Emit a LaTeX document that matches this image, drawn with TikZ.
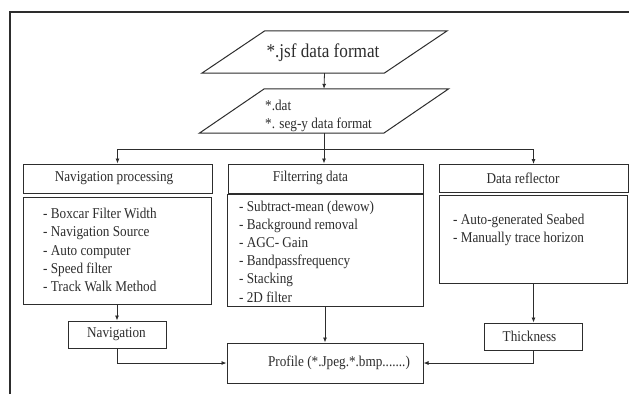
\documentclass[tikz,border=0pt]{standalone}
\usepackage{fontspec}
\setmainfont{Liberation Serif}[FakeStretch=0.88]
\usetikzlibrary{arrows.meta}
\definecolor{ink}{RGB}{45,45,45}
\begin{document}
\begin{tikzpicture}[x=1pt,y=-1pt,
  box/.style={draw=ink,line width=1pt,inner sep=0pt},
  txt/.style={font=\fontsize{15}{18.2}\selectfont,text=ink,inner sep=0pt,align=left},
  bigtxt/.style={font=\fontsize{19.5}{22}\selectfont,text=ink,inner sep=0pt},
  arr/.style={draw=ink,line width=0.8pt,-{Latex[length=5pt,width=4pt]}},
  line/.style={draw=ink,line width=0.8pt}]
\useasboundingbox (0,0) rectangle (629,394);
\fill[white] (0,0) rectangle (629,394);
% outer frame (partially cropped)
\draw[ink,line width=1.2pt] (10,394) -- (10,12) -- (629,12);

% parallelograms
\node[inner sep=0pt,minimum width=182pt,minimum height=42pt] (p1) at (324.5,52) {};
\draw[ink,line width=1pt] ([xshift=31.5pt]p1.north west) -- ([xshift=31.5pt]p1.north east)
  -- ([xshift=-31.5pt]p1.south east) -- ([xshift=-31.5pt]p1.south west) -- cycle;
\node[bigtxt] (p1t) at (323,53) {*.jsf data format};

\node[inner sep=0pt,minimum width=184pt,minimum height=44pt] (p2) at (324,111) {};
\draw[ink,line width=1pt] ([xshift=32.5pt]p2.north west) -- ([xshift=32.5pt]p2.north east)
  -- ([xshift=-32.5pt]p2.south east) -- ([xshift=-32.5pt]p2.south west) -- cycle;
\node[txt,anchor=west] (p2t) at (265,116) {*.dat\\*. seg-y data format};

% headers
\node[box,minimum width=189pt,minimum height=29pt] (nh) at (117.5,178.5) {};
\node[txt] (nht) at (114,178) {Navigation processing};
\node[box,minimum width=195pt,minimum height=29pt] (fh) at (325.5,178.5) {};
\node[txt] (fht) at (310.5,178) {Filterring data};
\node[box,minimum width=189pt,minimum height=28pt] (dh) at (533.5,178.5) {};
\node[txt] (dht) at (523,178) {Data reflector};

% bodies
\node[box,minimum width=188pt,minimum height=107pt] (nb) at (117,251) {};
\node[txt,anchor=west] (nbt) at (43,250) {- Boxcar Filter Width\\- Navigation Source\\- Auto computer\\- Speed filter\\- Track Walk Method};
\node[box,minimum width=196pt,minimum height=112pt] (fb) at (325,250) {};
\node[txt,anchor=west] (fbt) at (239,251.5) {- Subtract-mean (dewow)\\- Background removal\\- AGC- Gain\\- Bandpassfrequency\\- Stacking\\- 2D filter};
\node[box,minimum width=188pt,minimum height=88pt] (db) at (533.5,239) {};
\node[txt,anchor=west] (dbt) at (453,230) {- Auto-generated Seabed\\- Manually trace horizon};

% lower boxes
\node[box,minimum width=98pt,minimum height=27pt] (nav) at (117,334.5) {};
\node[txt] (navt) at (116.5,334.5) {Navigation};
\node[box,minimum width=98pt,minimum height=27pt] (thk) at (533.5,336.5) {};
\node[txt] (thkt) at (529.5,336.5) {Thickness};
\node[box,minimum width=196pt,minimum height=40pt] (prof) at (325,363) {};
\node[txt] (proft) at (339,363) {Profile (*.Jpeg.*.bmp.......)};

% connectors
\coordinate (split) at (324,149);
\draw[arr] (p1.south) -- (p2.north);
\draw[arr] (p2.south) -- (p2.south |- fh.north);
\draw[arr] (split) -| (nh.north);
\draw[arr] (split) -| (dh.north);
\draw[arr] (nb.south) -- (nav.north);
\draw[arr] (fb.south) -- (prof.north);
\draw[arr] (db.south) -- (thk.north);
\draw[arr] (nav.south) |- (prof.west);
\draw[arr] (thk.south) |- (prof.east);
\end{tikzpicture}
\end{document}
